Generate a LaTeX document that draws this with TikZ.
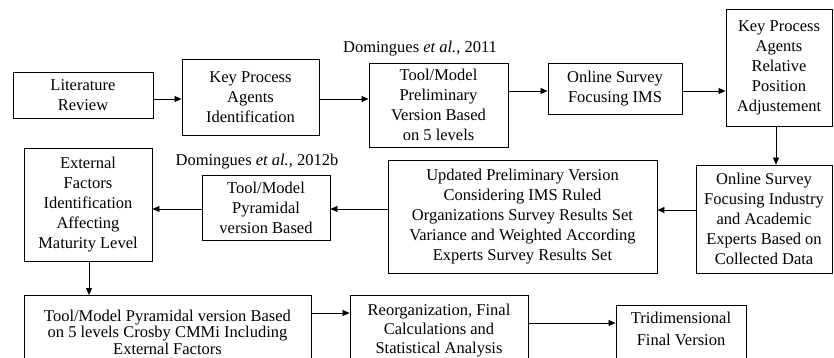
\documentclass[tikz,border=0pt]{standalone}
\usepackage{fontspec}
\setmainfont{Liberation Serif}
\usetikzlibrary{arrows.meta}
\begin{document}
\begin{tikzpicture}[x=1pt,y=-1pt,
  box/.style={draw, line width=0.9pt, inner sep=0pt, align=center, font=\fontsize{16.5}{20}\selectfont},
  ebox/.style={draw, line width=0.9pt, inner sep=0pt, anchor=north},
  btxt/.style={inner sep=0pt, align=center, anchor=north, font=\fontsize{16.5}{19}\selectfont},
  lbl/.style={inner sep=0pt, font=\fontsize{16.5}{20}\selectfont},
  arr/.style={line width=0.8pt, -{Triangle[length=7pt,width=6pt]}}]
\useasboundingbox (0,0) rectangle (834,358);
\clip (0,0) rectangle (834,358);
% top row
\node[box, minimum width=140pt, minimum height=46pt] (b1) at (83,95) {Literature\\Review};
\node[box, minimum width=137pt, minimum height=76pt] (b2) at (250.5,97) {Key Process\\Agents\\Identification};
\node[box, minimum width=139pt, minimum height=84pt] (b3) at (438.5,105) {Tool/Model\\Preliminary\\Version Based\\on 5 levels};
\node[lbl] (l1) at (420,49) {Domingues \textit{et al.}, 2011};
\node[box, minimum width=134pt, minimum height=51pt] (b4) at (615,89) {Online Survey\\Focusing IMS};
\node[box, minimum width=106pt, minimum height=117pt] (b5) at (779,67.5) {Key Process\\Agents\\Relative\\Position\\Adjustement};
% middle row
\node[box, minimum width=136pt, minimum height=108pt] (b6) at (764,219) {Online Survey\\Focusing Industry\\and Academic\\Experts Based on\\Collected Data};
\node[box, minimum width=269pt, minimum height=113pt] (b7) at (522.5,216.5) {Updated Preliminary Version\\Considering IMS Ruled\\Organizations Survey Results Set\\Variance and Weighted According\\Experts Survey Results Set};
\node[box, minimum width=128pt, minimum height=65pt] (b8) at (266,207.5) {Tool/Model\\Pyramidal\\version Based};
\node[lbl] (l2) at (257,162) {Domingues \textit{et al.}, 2012b};
\node[box, minimum width=128pt, minimum height=113pt] (b9) at (88,204.5) {External\\Factors\\Identification\\Affecting\\Maturity Level};
% bottom row
\node[ebox, minimum width=287pt, minimum height=90pt] (b10) at (167.5,295) {};
\node[btxt, font=\fontsize{16.5}{16.5}\selectfont] (t10) at ([yshift=-14.5pt]b10.north) {Tool/Model Pyramidal version Based\\on 5 levels Crosby CMMi Including\\External Factors};
\node[ebox, minimum width=178pt, minimum height=90pt] (b11) at (439,295) {};
\node[btxt] (t11) at ([yshift=-9pt]b11.north) {Reorganization, Final\\Calculations and\\Statistical Analysis};
\node[ebox, minimum width=130pt, minimum height=90pt] (b12) at (681,305) {};
\node[btxt, font=\fontsize{16.5}{22}\selectfont] (t12) at ([yshift=-7pt]b12.north) {Tridimensional\\Final Version};
% connector levels
\coordinate (ya) at (0,99);
\coordinate (yb) at (0,91);
\coordinate (xc) at (776,0);
\coordinate (yd) at (0,210);
\coordinate (ye) at (0,209);
\coordinate (xf) at (89,0);
\coordinate (yg) at (0,313);
\coordinate (yh) at (0,323);
% connectors
\draw[arr] (b1.east |- ya) -- (b2.west |- ya);
\draw[arr] (b2.east |- ya) -- (b3.west |- ya);
\draw[arr] (b3.east |- yb) -- (b4.west |- yb);
\draw[arr] (b4.east |- yb) -- (b5.west |- yb);
\draw[arr] (b5.south -| xc) -- (b6.north -| xc);
\draw[arr] (b6.west |- yd) -- (b7.east |- yd);
\draw[arr] (b7.west |- ye) -- (b8.east |- ye);
\draw[arr] (b8.west |- ye) -- (b9.east |- ye);
\draw[arr] (b9.south -| xf) -- (b10.north -| xf);
\draw[arr] (b10.east |- yg) -- (b11.west |- yg);
\draw[arr] (b11.east |- yh) -- (b12.west |- yh);
\end{tikzpicture}
\end{document}
